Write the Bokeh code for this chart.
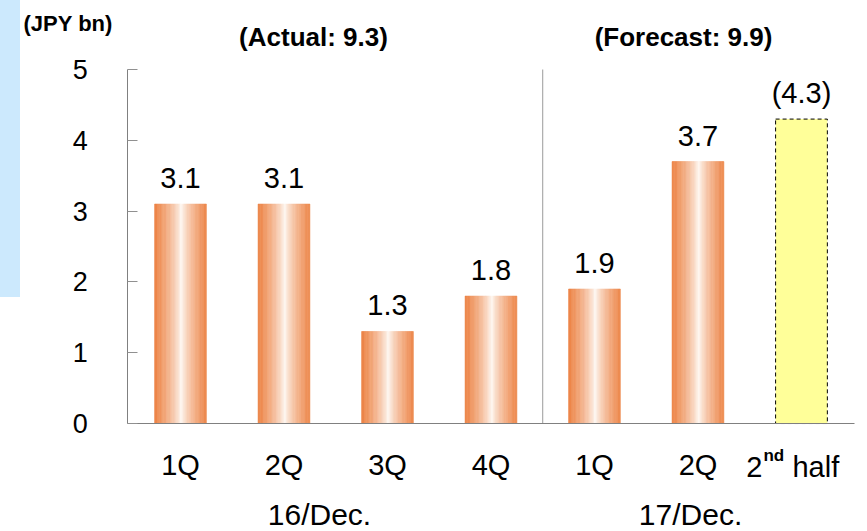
from bokeh.plotting import figure
from bokeh.models import (Range1d, FixedTicker, Label, LabelSet, ColumnDataSource, Div)
from bokeh.core.properties import value
from bokeh.layouts import row
from bokeh.embed import file_html
from bokeh.resources import INLINE

# ---- data ----
categories = ["1Q", "2Q", "3Q", "4Q", "1Q", "2Q"]
actual_values = [3.1, 3.1, 1.3, 1.8, 1.9, 3.7]
value_labels = ["3.1", "3.1", "1.3", "1.8", "1.9", "3.7"]
forecast_value = 4.3
forecast_label = "(4.3)"
group_labels = ["16/Dec.", "17/Dec."]
group_centers = [1.343, 4.928]
period_titles = ["(Actual: 9.3)", "(Forecast: 9.9)"]
title_centers = [1.285, 4.86]
unit_label = "(JPY bn)"
y_ticks = [0, 1, 2, 3, 4, 5]
separator_at = 3.5

FONT = "Liberation Sans"
ORANGE = (236, 128, 64)
WHITE = (255, 253, 250)

xs = list(range(len(categories)))
fx = len(categories)
bw = 0.5

p = figure(width=847, height=531, x_range=Range1d(-1.546, 6.638), y_range=Range1d(-1.525, 5.975),
           output_backend="svg", toolbar_location=None,
           min_border=0, min_border_left=0, min_border_right=0, min_border_top=0, min_border_bottom=0)
p.outline_line_color = None
p.grid.visible = False
p.background_fill_color = "white"
p.border_fill_color = "white"

# gradient bars built from thin vertical strips
N = 40
left, right, top, colors = [], [], [], []
for x, v in zip(xs, actual_values):
    for i in range(N):
        t = (i + 0.5) / N
        d = abs(t - 0.52) / 0.52
        m = min(1.0, d) ** 0.7
        c = tuple(int(round(WHITE[k] + (ORANGE[k] - WHITE[k]) * m)) for k in range(3))
        left.append(x - bw / 2 + bw * i / N)
        right.append(x - bw / 2 + bw * (i + 1) / N)
        top.append(v)
        colors.append("#%02x%02x%02x" % c)
p.quad(left=left, right=right, bottom=0, top=top, fill_color=colors, line_color=colors, line_width=0.6)

# forecast bar
p.vbar(x=[fx], top=[forecast_value], width=bw, fill_color="#FFFF99",
       line_color="black", line_dash="4 3", line_width=1)

# value labels
src = ColumnDataSource(dict(x=xs + [fx], y=actual_values + [forecast_value],
                            t=value_labels + [forecast_label]))
p.add_layout(LabelSet(x="x", y="y", text="t", source=src, y_offset=16,
                      text_align="center", text_baseline="alphabetic",
                      text_font=value(FONT), text_font_size="29px", text_color="black"))

# separator between the two fiscal years
p.segment(x0=[separator_at], y0=[0], x1=[separator_at], y1=[5], line_color="#9a9a9a", line_width=1)

# axes
p.yaxis.fixed_location = -0.51
p.yaxis.bounds = (0, 5)
p.yaxis.ticker = FixedTicker(ticks=y_ticks)
p.yaxis.axis_line_color = "#808080"
p.yaxis.major_tick_in = 10
p.yaxis.major_tick_out = 0
p.yaxis.major_tick_line_color = "#909090"
p.yaxis.minor_tick_line_color = None
p.yaxis.major_label_standoff = 40
p.yaxis.major_label_text_font = FONT
p.yaxis.major_label_text_font_size = "27px"
p.yaxis.major_label_text_color = "black"

p.xaxis.fixed_location = 0
p.xaxis.bounds = (-0.51, 6.51)
p.xaxis.ticker = FixedTicker(ticks=xs)
p.xaxis.major_label_overrides = {x: c for x, c in zip(xs, categories)}
p.xaxis.axis_line_color = "#808080"
p.xaxis.major_tick_in = 0
p.xaxis.major_tick_out = 0
p.xaxis.minor_tick_line_color = None
p.xaxis.major_label_standoff = 25
p.xaxis.major_label_text_font = FONT
p.xaxis.major_label_text_font_size = "29px"
p.xaxis.major_label_text_color = "black"

LBL = dict(text_baseline="alphabetic", text_font=FONT, text_color="black")

# "2nd half" label with superscript
base_y = -0.72
p.add_layout(Label(x=fx, y=base_y, x_offset=-39, y_offset=8, text="2", text_align="right",
                   text_font_size="29px", **LBL))
p.add_layout(Label(x=fx, y=base_y, x_offset=-38, y_offset=19, text="nd", text_align="left",
                   text_font_size="17px", text_font_style="bold", **LBL))
p.add_layout(Label(x=fx, y=base_y, x_offset=-9, y_offset=8, text="half", text_align="left",
                   text_font_size="29px", **LBL))

# group labels
for gx, g in zip(group_centers, group_labels):
    p.add_layout(Label(x=gx, y=-1.455, y_offset=12, text=g, text_align="center",
                       text_font_size="30px", **LBL))

# period titles
for tx, t in zip(title_centers, period_titles):
    p.add_layout(Label(x=tx, y=5.353, y_offset=8, text=t, text_align="center",
                       text_font_size="26px", text_font_style="bold", **LBL))

# unit label
p.add_layout(Label(x=-1.517, y=5.537, y_offset=8, text=unit_label, text_align="left",
                   text_font_size="22px", text_font_style="bold", **LBL))

side = Div(text="", width=20, height=297, margin=0,
           styles={"background-color": "#CCE9FD"})
layout = row(side, p, margin=0)

open("out.html", "w").write(file_html(layout, INLINE))
